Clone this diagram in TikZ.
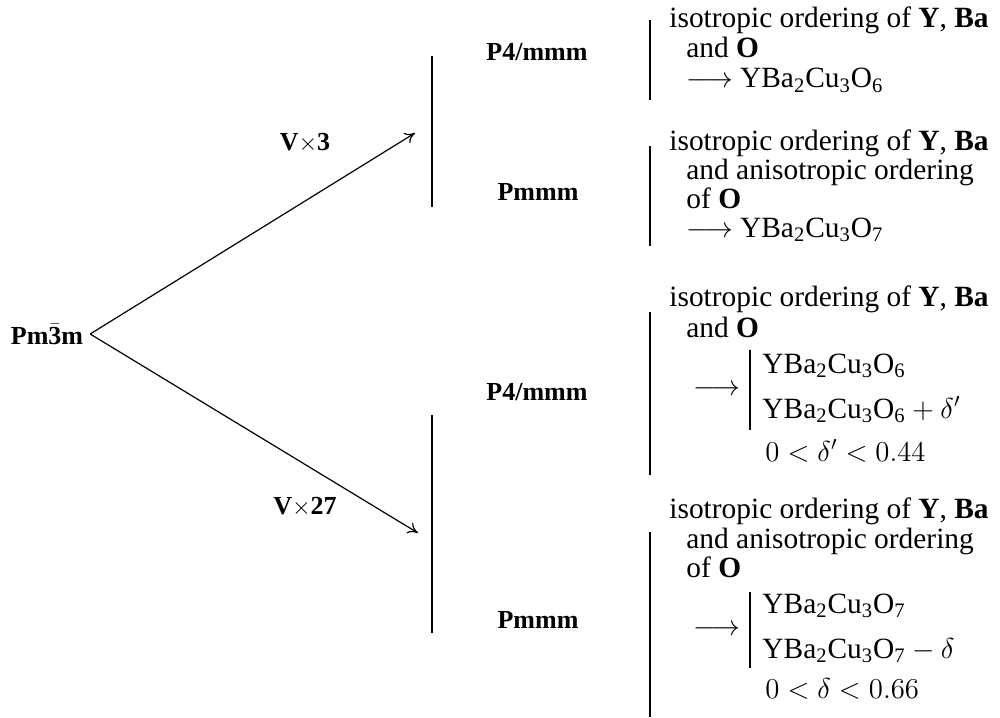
\documentclass[tikz,border=0pt]{standalone}
\usepackage{fontspec}
\setmainfont{Liberation Serif}
\usetikzlibrary{arrows.meta}

\newcommand{\ybco}[1]{YBa\textsubscript{2}Cu\textsubscript{3}O\textsubscript{#1}}
\newcommand{\isoline}{isotropic ordering of \textbf{Y}, \textbf{Ba}}

\begin{document}
\begin{tikzpicture}[
  x=0.5pt, y=-0.5pt,
  grp/.style={font=\bfseries\fontsize{13}{15}\selectfont},
  ln/.style={anchor=base west, inner sep=0pt, font=\fontsize{14.7}{17}\selectfont},
  arr/.style={anchor=west, inner sep=0pt, font=\fontsize{14.7}{17}\selectfont},
  bar/.style={line width=0.9pt},
  arrow/.style={-{To[length=5pt,width=6pt]}, line width=0.6pt}
]
\useasboundingbox (0,0) rectangle (1000,717);

% parent group and the two branches
\node[grp] (pm) at (47,334) {Pm$\bar{\textbf{3}}$m};
\coordinate (t3) at (415,133);
\coordinate (t27) at (418,533);
\node[grp] (v3) at (305,143) {V$\times$3};
\node[grp] (v27) at (305,507) {V$\times$27};

\draw[arrow] (pm.east) -- (t3);
\draw[arrow] (pm.east) -- (t27);

\coordinate (s1a) at (432,56);  \coordinate (s1b) at (432,207);
\coordinate (s2a) at (432,415); \coordinate (s2b) at (432,633);
\draw[bar] (s1a) -- (s1b);
\draw[bar] (s2a) -- (s2b);

% subgroups
\node[grp] (g1) at (537,52) {P4/mmm};
\node[grp] (g2) at (538,192) {Pmmm};
\node[grp] (g3) at (537,392) {P4/mmm};
\node[grp] (g4) at (538,620) {Pmmm};

% brackets in front of the descriptions
\draw[bar] (650,20) -- (650,100);
\draw[bar] (650,146) -- (650,246);
\draw[bar] (650,312) -- (650,475);
\draw[bar] (650,532) -- (650,717);

% P4/mmm, V x 3
\node[ln] (a1) at (669,28) {\isoline};
\node[ln] (a2) at (686,58) {and \textbf{O}};
\node[ln] (a3) at (686,88) {$\longrightarrow$ \ybco{6}};

% Pmmm, V x 3
\node[ln] (b1) at (669,150) {\isoline};
\node[ln] (b2) at (686,179) {and anisotropic ordering};
\node[ln] (b3) at (686,208) {of \textbf{O}};
\node[ln] (b4) at (686,237) {$\longrightarrow$ \ybco{7}};

% P4/mmm, V x 27
\node[ln] (c1) at (669,306) {\isoline};
\node[ln] (c2) at (686,337) {and \textbf{O}};
\node[arr] (c3) at (693,390) {$\longrightarrow$};
\draw[line width=0.7pt] (750,350) -- (750,430);
\node[ln] (c4) at (762,373) {\ybco{6}};
\node[ln] (c5) at (762,418) {\ybco{6}${}+\delta'$};
\node[ln] (c6) at (765,461) {$0<\delta'<0.44$};

% Pmmm, V x 27
\node[ln] (d1) at (669,518) {\isoline};
\node[ln] (d2) at (686,548) {and anisotropic ordering};
\node[ln] (d3) at (686,577) {of \textbf{O}};
\node[arr] (d4) at (693,630) {$\longrightarrow$};
\draw[line width=0.7pt] (750,592) -- (750,668);
\node[ln] (d5) at (762,613) {\ybco{7}};
\node[ln] (d6) at (762,658) {\ybco{7}${}-\delta$};
\node[ln] (d7) at (765,698) {$0<\delta<0.66$};

\end{tikzpicture}
\end{document}
